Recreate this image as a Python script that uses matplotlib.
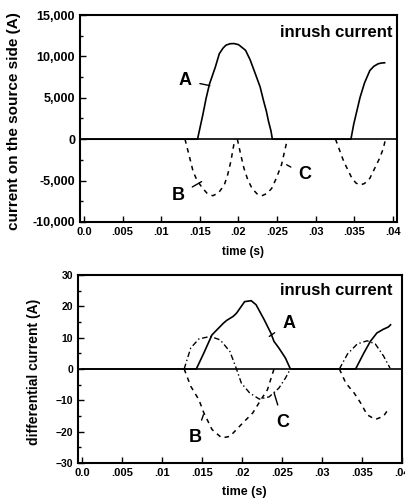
import matplotlib
matplotlib.use('Agg')
import matplotlib.pyplot as plt
from matplotlib.ticker import MultipleLocator, FuncFormatter

plt.rcParams['font.family'] = ['Liberation Sans', 'DejaVu Sans']
plt.rcParams['font.weight'] = 'bold'

# ---- top panel: current on the source side (A) ----
top_a_t = [0.0, 0.0147, 0.0154, 0.0158, 0.01625, 0.0170, 0.01752, 0.0180, 0.01837, 0.0189, 0.01943, 0.0200,
           0.02091, 0.0215, 0.02218, 0.0228, 0.02324, 0.0236, 0.02387, 0.0242, 0.02438,
           0.03454, 0.0349, 0.03572, 0.0363, 0.03699, 0.0375, 0.03806, 0.0385, 0.0389]
top_a_v = [0, 0, 3010, 4900, 6670, 8700, 10330, 11000, 11350, 11530, 11550, 11420,
           10740, 9600, 7890, 6300, 4640, 3400, 2200, 1000, 0,
           0, 1800, 5040, 6800, 8300, 8800, 9110, 9200, 9230]

top_b_t = [0.01308, 0.01365, 0.01413, 0.0146, 0.0152, 0.0159, 0.01667, 0.0174, 0.01816, 0.0186, 0.01901, 0.01952]
top_b_v = [0, -2100, -3900, -4900, -5730, -6500, -6830, -6500, -5530, -4300, -2680, 0]

top_c_t = [0.01985, 0.0203, 0.0207, 0.0212, 0.02175, 0.0224, 0.02302, 0.0237, 0.02429, 0.0249, 0.02556, 0.02632]
top_c_v = [0, -1900, -3500, -4900, -5940, -6600, -6830, -6550, -5940, -4700, -3090, 0]

top_b2_t = [0.03255, 0.0331, 0.03361, 0.03467, 0.0352, 0.03572, 0.0363, 0.03699, 0.03826, 0.0387, 0.03902]
top_b2_v = [0, -1400, -2680, -4720, -5300, -5530, -5350, -4720, -2280, -1200, 0]

# ---- bottom panel: differential current (A) ----
bot_a_t = [0.0, 0.01429, 0.01523, 0.01625, 0.01767, 0.01808, 0.0189, 0.01931, 0.02033, 0.02115, 0.02176,
           0.02278, 0.0236, 0.024, 0.02461, 0.02543, 0.02605,
           0.0342, 0.03523, 0.03604, 0.03686, 0.03768, 0.03829, 0.03857]
bot_a_v = [0, 0, 5.1, 10.9, 14.6, 15.5, 16.8, 17.8, 21.5, 21.8, 20.5,
           15.7, 11.5, 8.8, 6.7, 3.5, 0,
           0, 5.1, 8.8, 11.5, 12.7, 13.4, 14.1]

bot_b_t = [0.01277, 0.01359, 0.01461, 0.01523, 0.01625, 0.01747, 0.01849, 0.01992, 0.02135, 0.02237, 0.02318, 0.024]
bot_b_v = [0, -5.5, -9.8, -14.0, -19.3, -22.0, -21.5, -17.7, -14.0, -9.8, -6.6, 0]

bot_b2_t = [0.03217, 0.03298, 0.034, 0.03482, 0.03564, 0.03666, 0.03768, 0.03841]
bot_b2_v = [0, -4.5, -7.6, -10.8, -14.6, -16.1, -15.1, -12.4]

bot_c_t = [0.01277, 0.01359, 0.01461, 0.01604, 0.01727, 0.01849, 0.01931, 0.01992, 0.02094, 0.02216,
           0.02339, 0.02461, 0.02543, 0.02605]
bot_c_v = [0, 6.7, 9.6, 10.4, 9.3, 5.6, 0, -4.5, -7.6, -9.6, -8.9, -6.1, -2.9, 0]

bot_c2_t = [0.03217, 0.03319, 0.03441, 0.03564, 0.03666, 0.03768, 0.0385]
bot_c2_v = [0, 4.8, 8.0, 9.0, 8.0, 4.2, 0.3]

x_ticks = [0.0, 0.005, 0.01, 0.015, 0.02, 0.025, 0.03, 0.035, 0.04]
x_labels = ['0.0', '.005', '.01', '.015', '.02', '.025', '.03', '.035', '.04']

W, H = 406, 500
fig = plt.figure(figsize=(W / 100, H / 100), dpi=100)
ax1 = fig.add_axes([80 / W, 1 - 222 / H, 317 / W, 207 / H])
ax2 = fig.add_axes([78 / W, 1 - 463 / H, 324 / W, 188 / H])

dash_b = (0, (3, 3))
dash_c = (0, (4, 2, 1, 2))

# top
ax1.axhline(0, color='black', lw=1.2)
ax1.plot(top_a_t, top_a_v, color='black', lw=1.2)
ax1.plot(top_b_t, top_b_v, color='black', lw=1.1, linestyle=dash_b)
ax1.plot(top_c_t, top_c_v, color='black', lw=1.1, linestyle=dash_b)
ax1.plot(top_b2_t, top_b2_v, color='black', lw=1.1, linestyle=dash_b)
ax1.set_xlim(-0.0005, 0.0405)
ax1.set_ylim(-10000, 15000)
ax1.yaxis.set_major_locator(MultipleLocator(5000))
ax1.yaxis.set_minor_locator(MultipleLocator(2500))
ax1.yaxis.set_major_formatter(FuncFormatter(lambda v, p: f'{int(v):,}'))
ax1.set_ylabel('current on the source side (A)', fontsize=11, fontweight='bold')
ax1.yaxis.set_label_coords(-0.185, 0.49)
ax1.set_xlabel('time (s)', fontsize=8.5, fontweight='bold')
ax1.xaxis.set_label_coords(0.514, -0.115)
ax1.text(0.985, 0.915, 'inrush current', transform=ax1.transAxes, ha='right', va='center',
         fontsize=12, fontweight='bold')
ax1.annotate('A', xy=(0.0163, 6470), xytext=(0.0131, 7080), fontsize=13, fontweight='bold',
             ha='center', va='center', arrowprops=dict(arrowstyle='-', lw=1, shrinkA=4, shrinkB=0))
ax1.annotate('B', xy=(0.01523, -5120), xytext=(0.0122, -6750), fontsize=13, fontweight='bold',
             ha='center', va='center', arrowprops=dict(arrowstyle='-', lw=1, shrinkA=4, shrinkB=0))
ax1.annotate('C', xy=(0.02623, -3090), xytext=(0.0286, -4300), fontsize=13, fontweight='bold',
             ha='center', va='center', arrowprops=dict(arrowstyle='-', lw=1, shrinkA=4, shrinkB=0))
ax1.tick_params(axis='y', labelsize=9)
ax1.tick_params(axis='x', labelsize=8)

# bottom
ax2.axhline(0, color='black', lw=1.2)
ax2.plot(bot_a_t, bot_a_v, color='black', lw=1.2)
ax2.plot(bot_b_t, bot_b_v, color='black', lw=1.1, linestyle=dash_b)
ax2.plot(bot_b2_t, bot_b2_v, color='black', lw=1.1, linestyle=dash_b)
ax2.plot(bot_c_t, bot_c_v, color='black', lw=1.0, linestyle=dash_c)
ax2.plot(bot_c2_t, bot_c2_v, color='black', lw=1.0, linestyle=dash_c)
ax2.set_xlim(-0.0005, 0.0385)
ax2.set_ylim(-30, 30)
ax2.yaxis.set_major_locator(MultipleLocator(10))
ax2.yaxis.set_minor_locator(MultipleLocator(5))
ax2.set_ylabel('differential current (A)', fontsize=10, fontweight='bold')
ax2.yaxis.set_label_coords(-0.115, 0.484)
ax2.set_xlabel('time (s)', fontsize=9, fontweight='bold')
ax2.xaxis.set_label_coords(0.512, -0.125)
ax2.text(0.972, 0.92, 'inrush current', transform=ax2.transAxes, ha='right', va='center',
         fontsize=12, fontweight='bold')
ax2.annotate('A', xy=(0.02341, 10.4), xytext=(0.02582, 14.6), fontsize=13, fontweight='bold',
             ha='center', va='center', arrowprops=dict(arrowstyle='-', lw=1, shrinkA=4, shrinkB=0))
ax2.annotate('B', xy=(0.01518, -14.6), xytext=(0.01418, -22), fontsize=13, fontweight='bold',
             ha='center', va='center', arrowprops=dict(arrowstyle='-', lw=1, shrinkA=5, shrinkB=0))
ax2.annotate('C', xy=(0.02401, -7.6), xytext=(0.02514, -17.2), fontsize=13, fontweight='bold',
             ha='center', va='center', arrowprops=dict(arrowstyle='-', lw=1, shrinkA=5, shrinkB=0))
ax2.tick_params(axis='y', labelsize=7.5)
ax2.tick_params(axis='x', labelsize=8)

for ax in (ax1, ax2):
    ax.set_xticks(x_ticks)
    ax.set_xticklabels(x_labels)
    ax.tick_params(which='both', direction='in', width=1)
    ax.tick_params(which='major', length=4)
    ax.tick_params(which='minor', length=2)
    for lbl in ax.get_xticklabels() + ax.get_yticklabels():
        lbl.set_fontweight('bold')
    for s in ax.spines.values():
        s.set_linewidth(1.5)

fig.savefig('out.png', dpi=100)
